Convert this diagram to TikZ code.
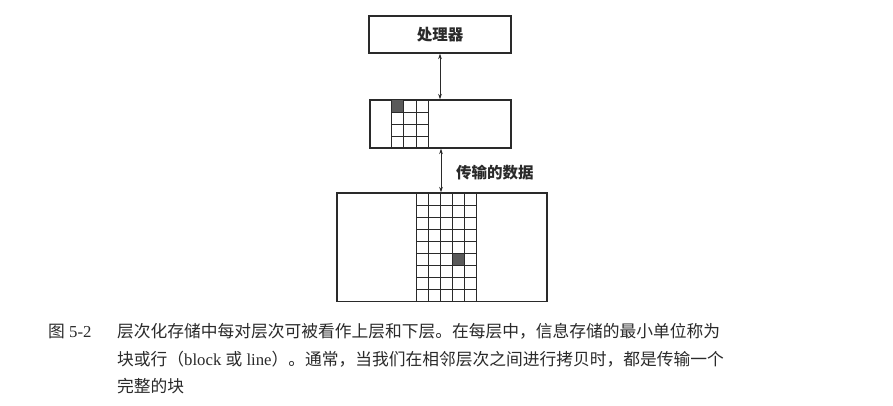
\documentclass[tikz,border=0pt]{standalone}
\usepackage{fontspec}
\setmainfont{Liberation Serif}
\newfontfamily\cjk{Noto Sans CJK SC}
\usetikzlibrary{arrows.meta,calc}
\definecolor{ink}{HTML}{2A2A2A}
\definecolor{cellfill}{HTML}{5A5A5A}
\tikzset{
  levelbox/.style={draw=ink,line width=1.1pt,inner sep=0pt,minimum width=#1},
  gridline/.style={draw=ink,line width=0.9pt},
  xfer/.style={draw=ink,line width=1pt,{Stealth[length=5.5pt,width=3.6pt]}-{Stealth[length=5.5pt,width=3.6pt]}},
  label/.style={font=\cjk\bfseries\fontsize{15.5}{18}\selectfont,text=ink,inner sep=0pt},
  captext/.style={font=\fontsize{16.75}{20}\selectfont,text=ink,inner sep=0pt,anchor=west}
}
\begin{document}
\begin{tikzpicture}[x=1pt,y=-1pt]
\useasboundingbox (0,0) rectangle (893,405);
\fill[white] (0,0) rectangle (893,405);
% boxes
\node[levelbox=142pt,minimum height=37pt,label] (proc) at (440,34.5) {处理器};
\node[levelbox=141pt,minimum height=48pt] (cache) at (440.5,124) {};
\node[levelbox=210pt,minimum height=108.7pt] (mem) at (442,247.35) {};
% cache grid 3x4
\fill[cellfill] (391.7,100) rectangle (403.9,112);
\foreach \x in {391.7,403.9,416.1,428.3} \draw[gridline] (\x,100) -- (\x,148);
\foreach \y in {112,124,136} \draw[gridline] (391.7,\y) -- (428.3,\y);
% memory grid 5x9
\fill[cellfill] (452.7,253.35) rectangle (464.7,265.4);
\foreach \x in {416.7,428.7,440.7,452.7,464.7,476.7} \draw[gridline] (\x,193) -- (\x,301.7);
\foreach \i in {1,...,8} \draw[gridline] (416.7,193+12.08*\i) -- (476.7,193+12.08*\i);
% connectors
\draw[xfer] (proc.south) -- (proc.south |- cache.north);
\coordinate (cs) at ($(cache.south)+(0.5,0)$);
\draw[xfer] (cs) -- (cs |- mem.north);
\node[label,anchor=west] (xferlab) at (456,173) {传输的数据};
% caption
\node[captext] (figno) at (48,331) {{\cjk 图} 5-2};
\node[captext] (cap1) at (117,331) {\cjk 层次化存储中每对层次可被看作上层和下层。在每层中，信息存储的最小单位称为};
\node[captext] (cap2) at (117,359) {{\cjk 块或行（}block {\cjk 或} line{\cjk ）。通常，当我们在相邻层次之间进行拷贝时，都是传输一个}};
\node[captext] (cap3) at (117,386) {\cjk 完整的块};
\end{tikzpicture}
\end{document}
